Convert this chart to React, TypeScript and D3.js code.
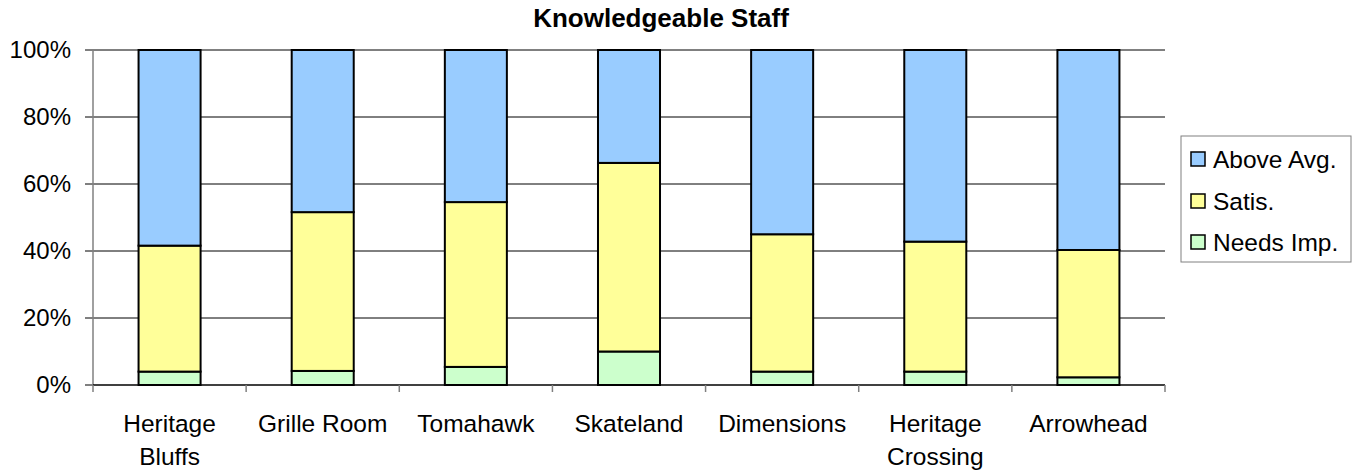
import React from "react";
import * as d3 from "d3";

const categories = ["Heritage Bluffs", "Grille Room", "Tomahawk", "Skateland", "Dimensions", "Heritage Crossing", "Arrowhead"];
const categoryLines = [["Heritage", "Bluffs"], ["Grille Room"], ["Tomahawk"], ["Skateland"], ["Dimensions"], ["Heritage", "Crossing"], ["Arrowhead"]];
const needsImp = [4.0, 4.2, 5.4, 10.0, 4.0, 4.0, 2.3];
const satis = [37.6, 47.4, 49.2, 56.3, 41.0, 38.8, 38.0];
const aboveAvg = [58.4, 48.4, 45.4, 33.7, 55.0, 57.2, 59.7];
const seriesNames = ["Needs Imp.", "Satis.", "Above Avg."];
const seriesColors = ["#CCFFCC", "#FFFF99", "#99CCFF"];
const yTicks = [0, 20, 40, 60, 80, 100];
const title = "Knowledgeable Staff";

export default function App() {
  const W = 1358, H = 472;
  const left = 93, right = 1165, top = 50, bottom = 385;
  const font = "Liberation Sans, Arial, sans-serif";

  const x = d3.scaleBand<string>().domain(categories).range([left, right]).paddingInner(0.595).paddingOuter(0.2975);
  const y = d3.scaleLinear().domain([0, 100]).range([bottom, top]);

  const rows = categories.map((c, i) => ({ cat: c, n: needsImp[i], s: satis[i], a: aboveAvg[i] }));
  const stack = d3.stack<any>().keys(["n", "s", "a"])(rows);
  const step = x.step();
  const boundaries = d3.range(categories.length + 1).map(i => left + i * step);

  const legendItems = [2, 1, 0];
  const legendRows = [159, 201, 242];

  return (
    <svg width={W} height={H} style={{ position: "absolute", left: 0, top: 0, background: "#fff" }} fontFamily={font}>
      <text x={661} y={27} textAnchor="middle" fontSize={26} fontWeight="bold" fill="#000">{title}</text>
      {yTicks.map(t => (
        <g key={t}>
          {t > 0 && <line x1={left} x2={right} y1={y(t)} y2={y(t)} stroke="#000" strokeWidth={1} />}
          <line x1={85} x2={left} y1={y(t)} y2={y(t)} stroke="#000" strokeWidth={1} />
          <text x={71} y={y(t)} dy="0.35em" textAnchor="end" fontSize={24} fill="#000">{t}%</text>
        </g>
      ))}
      <line x1={left} x2={left} y1={top} y2={bottom} stroke="#808080" strokeWidth={1.5} />
      {stack.map((layer, si) => (
        <g key={si}>
          {layer.map((d, i) => (
            <rect key={i} x={x(categories[i])!} width={x.bandwidth()} y={y(d[1])} height={y(d[0]) - y(d[1])}
              fill={seriesColors[si]} stroke="#000" strokeWidth={2} />
          ))}
        </g>
      ))}
      <line x1={left} x2={right} y1={bottom} y2={bottom} stroke="#000" strokeWidth={1.5} />
      {boundaries.map((b, i) => (
        <line key={i} x1={b} x2={b} y1={bottom} y2={bottom + 7} stroke="#808080" strokeWidth={1.5} />
      ))}
      {categories.map((c, i) => (
        <text key={c} x={x(c)! + x.bandwidth() / 2} textAnchor="middle" fontSize={24.5} fill="#000">
          {categoryLines[i].map((l, j) => (
            <tspan key={j} x={x(c)! + x.bandwidth() / 2} y={432 + j * 33}>{l}</tspan>
          ))}
        </text>
      ))}
      <rect x={1181} y={136} width={170} height={126} fill="#fff" stroke="#808080" strokeWidth={1} />
      {legendItems.map((si, k) => (
        <g key={si}>
          <rect x={1191} y={legendRows[k] - 7} width={14} height={14} fill={seriesColors[si]} stroke="#000" strokeWidth={1.5} />
          <text x={1213} y={legendRows[k]} dy="0.35em" fontSize={24.5} fill="#000">{seriesNames[si]}</text>
        </g>
      ))}
    </svg>
  );
}
